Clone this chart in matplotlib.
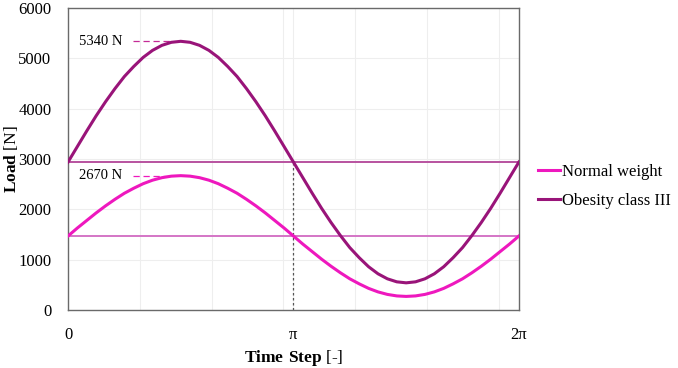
import numpy as np
import matplotlib.pyplot as plt

# time step in radians, read every pi/24
k = np.arange(49)
t = k * np.pi / 24
normal = [1470, 1630, 1780, 1930, 2070, 2200, 2320, 2420, 2510, 2580, 2630, 2660, 2670,
          2660, 2630, 2580, 2510, 2420, 2320, 2200, 2070, 1930, 1780, 1630, 1470,
          1310, 1160, 1010, 870, 740, 620, 520, 430, 360, 310, 280, 270,
          280, 310, 360, 430, 520, 620, 740, 870, 1010, 1160, 1310, 1470]
obese = [2940, 3250, 3560, 3860, 4140, 4400, 4640, 4840, 5020, 5160, 5260, 5320, 5340,
         5320, 5260, 5160, 5020, 4840, 4640, 4400, 4140, 3860, 3560, 3250, 2940,
         2630, 2320, 2020, 1740, 1480, 1240, 1040, 860, 720, 620, 560, 540,
         560, 620, 720, 860, 1040, 1240, 1480, 1740, 2020, 2320, 2630, 2940]
mean_normal = 1470
mean_obese = 2940
peak_normal = 2670
peak_obese = 5340
labels = ["Normal weight", "Obesity class III"]

c_norm = '#EE18BE'
c_obe = '#991479'

plt.rcParams['font.family'] = ['Liberation Serif', 'DejaVu Serif']
plt.rcParams['mathtext.fontset'] = 'custom'
plt.rcParams['mathtext.rm'] = 'Liberation Serif'
plt.rcParams['mathtext.bf'] = 'Liberation Serif:bold'

fig = plt.figure(figsize=(6.78, 3.68), dpi=100)
ax = fig.add_axes([0.1003, 0.1576, 0.665, 0.8204])

ax.axhline(mean_obese, color='#B8529F', lw=1.4, zorder=2)
ax.axhline(mean_normal, color='#D475C6', lw=1.4, zorder=2)
ax.plot([np.pi, np.pi], [0, mean_obese], color='#555555', lw=0.9, ls=(0, (2, 2)), zorder=2)

ax.plot(t, normal, color=c_norm, lw=2.2, label=labels[0], zorder=3)
ax.plot(t, obese, color=c_obe, lw=2.2, label=labels[1], zorder=3)

# peak markers
ax.plot([0.9, 1.45], [peak_obese, peak_obese], color='#C42A96', lw=0.9, ls=(0, (5, 3)))
ax.plot([0.9, 1.45], [peak_normal, peak_normal], color=c_norm, lw=0.9, ls=(0, (5, 3)))
ax.text(0.76, peak_obese, f"{peak_obese} N", ha='right', va='center', fontsize=10.5)
ax.text(0.76, peak_normal, f"{peak_normal} N", ha='right', va='center', fontsize=10.5)

ax.set_xlim(0, 2 * np.pi)
ax.set_ylim(0, 6000)
ax.set_xticks([0, np.pi, 2 * np.pi])
ax.set_xticklabels(['0', 'π', '2π'])
ax.set_xticks(np.arange(1, 7), minor=True)
ax.set_yticks(np.arange(0, 6001, 1000))
ax.grid(True, which='both', color='#eeeeee', lw=0.8, zorder=0)
ax.set_axisbelow(True)
ax.tick_params(axis='both', which='both', length=0, labelsize=12)
ax.tick_params(axis='x', pad=12)
ax.tick_params(axis='y', pad=12)
for s in ax.spines.values():
    s.set_color('#6a6a6a')
    s.set_linewidth(1.0)

ax.set_xlabel(r"$\mathbf{Time\ Step}$ [-]", fontsize=12.5)
ax.set_ylabel(r"$\mathbf{Load}$ [N]", fontsize=12.5)
ax.xaxis.set_label_coords(0.5, -0.125)
ax.yaxis.set_label_coords(-0.106, 0.5)

fig.legend(loc='upper left', bbox_to_anchor=(0.772, 0.595), frameon=False, fontsize=12,
           handlelength=1.3, handletextpad=0.1, labelspacing=0.75)

fig.savefig('out.png', dpi=100)
